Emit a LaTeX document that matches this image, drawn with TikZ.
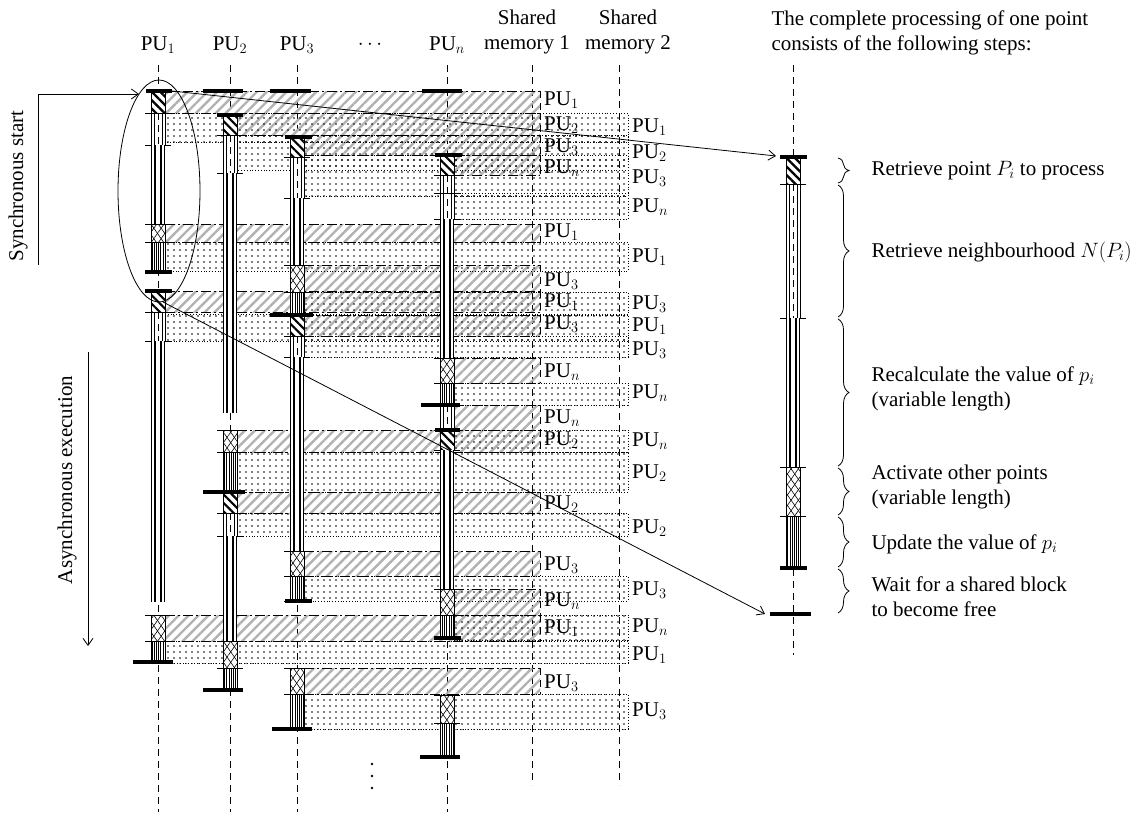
\documentclass[tikz,border=0pt]{standalone}
\usepackage{fontspec}
\setmainfont{Liberation Serif}
\usetikzlibrary{patterns.meta,decorations.pathreplacing,arrows.meta}

\begin{document}
\begin{tikzpicture}[x=1pt,y=-1pt,
  font=\fontsize{21}{25}\selectfont,
  lane/.style={line width=.8pt,dash pattern=on 7pt off 5pt},
  bar/.style={line width=3.6pt},
  tick/.style={line width=.8pt},
  side/.style={line width=.8pt},
  shmone/.style={pattern={Lines[angle=45,distance=7pt,line width=2.4pt]},pattern color=black!30},
  shmtwo/.style={pattern={Dots[distance=6pt,radius=.85pt]},pattern color=black},
  edgeone/.style={line width=.8pt,dash pattern=on 10pt off 3pt on 2pt off 3pt},
  edgetwo/.style={line width=.8pt,dotted},
  tag/.style={anchor=west,inner sep=1pt},
  brc/.style={decorate,decoration={brace,amplitude=11pt},line width=.8pt},
  link/.style={line width=.8pt,-{Straight Barb[length=7pt,width=10pt]}},
]
\useasboundingbox (0,0) rectangle (1137,814);

% Time lines of the processing units, the two shared memories and the legend.
\foreach \c in {158,230,297,447} \draw[lane] (\c,65) -- (\c,812);
\foreach \c in {532,619} \draw[lane] (\c,65) -- (\c,785);
\draw[lane] (793,65) -- (793,655);

% Accesses to shared memory 1 (hatched) with the unit named at the right.
\foreach \c/\a/\b/\k/\t in {158/91/113/1/100, 230/113/135/2/125, 297/135/155/3/147,
    447/155/175/n/168, 158/224/242/1/232, 297/265/292/3/281, 158/291/312/1/302,
    297/315/336/3/324, 447/358/383/n/372, 447/405/430/n/418, 230/430/452/2/440,
    230/492/513/2/504, 297/551/576/3/565, 447/589/615/n/601, 158/615/641/1/628,
    297/668/694/3/683} {
  \fill[shmone] (\c+7,\a) rectangle (540,\b);
  \draw[edgeone] (\c+7,\a) -- (540,\a) (\c+7,\b) -- (540,\b);
  \draw[lane] (540,\a) -- (540,\b);
  \node[tag] (ma\k\t) at (543,\t) {PU$_\k$};
}

% Accesses to shared memory 2 (dotted).
\foreach \c/\a/\b/\k/\t in {158/113/142/1/127, 230/135/170/2/153, 297/155/196/3/178,
    447/193/219/n/207, 158/242/271/1/257, 297/292/315/3/304, 158/314/341/1/326,
    297/336/357/3/350, 447/383/405/n/393, 447/430/452/n/441, 230/452/492/2/473,
    230/513/536/2/528, 297/576/601/3/590, 447/615/640/n/627, 158/641/663/1/655,
    297/694/729/3/711} {
  \fill[shmtwo] (\c+7,\a) rectangle (628,\b);
  \draw[edgetwo] (\c+7,\a) -- (628,\a) -- (628,\b) -- (\c+7,\b);
  \node[tag] (mb\k\t) at (631,\t) {PU$_\k$};
}

% Retrieve point.
\foreach \c/\a/\b in {158/91/113, 158/291/312, 230/115/135, 230/492/513, 297/137/157,
    297/315/336, 447/155/175, 447/430/450, 793/157/184} {
  \fill[white] (\c-7,\a) rectangle (\c+7,\b);
  \fill[pattern={Lines[angle=-45,distance=6pt,line width=2.2pt]}] (\c-7,\a) rectangle (\c+7,\b);
  \draw[side] (\c-7,\a) -- (\c-7,\b) (\c+7,\a) -- (\c+7,\b);
  \draw[tick] (\c-13,\b) -- (\c+13,\b);
}

% Retrieve neighbourhood.
\foreach \c/\a/\b in {158/113/145, 158/312/341, 230/135/173, 230/513/536, 297/157/198,
    297/336/357, 447/175/219, 447/405/430, 793/184/318} {
  \fill[white] (\c-7,\a) rectangle (\c+7,\b);
  \draw[side] (\c-7,\a) -- (\c-7,\b) (\c+7,\a) -- (\c+7,\b) (\c-4,\a) -- (\c-4,\b) (\c+4,\a) -- (\c+4,\b);
  \draw[lane,line width=.6pt] (\c,\a) -- (\c,\b);
  \draw[tick] (\c-13,\a) -- (\c+13,\a) (\c-13,\b) -- (\c+13,\b);
}
\draw[tick] (434,193) -- (460,193);

% Recalculate.
\foreach \c/\a/\b in {158/145/224, 158/341/602, 230/173/413, 230/536/641, 297/198/265,
    297/357/551, 447/219/358, 447/450/589, 793/318/467} {
  \fill[white] (\c-7,\a) rectangle (\c+7,\b);
  \draw[line width=.6pt] (\c-6.5,\a) -- (\c-6.5,\b) (\c+6.5,\a) -- (\c+6.5,\b);
  \draw[line width=2.4pt] (\c-3,\a) -- (\c-3,\b) (\c+3,\a) -- (\c+3,\b);
}

% Activate other points.
\foreach \c/\a/\b in {158/224/242, 158/615/641, 230/430/452, 230/641/668, 297/265/292,
    297/551/576, 297/668/694, 447/358/383, 447/589/615, 447/695/723, 793/467/516} {
  \fill[white] (\c-7,\a) rectangle (\c+7,\b);
  \fill[pattern={Lines[angle=55,distance=6pt,line width=.6pt]}] (\c-7,\a) rectangle (\c+7,\b);
  \fill[pattern={Lines[angle=-55,distance=6pt,line width=.6pt]}] (\c-7,\a) rectangle (\c+7,\b);
  \draw[side] (\c-7,\a) -- (\c-7,\b) (\c+7,\a) -- (\c+7,\b);
  \draw[tick] (\c-13,\a) -- (\c+13,\a) (\c-13,\b) -- (\c+13,\b);
}

% Update.
\foreach \c/\a/\b in {158/242/271, 158/641/662, 230/452/492, 230/668/690, 297/292/315,
    297/576/601, 297/694/729, 447/383/405, 447/615/638, 447/723/757, 793/516/568} {
  \fill[white] (\c-7,\a) rectangle (\c+7,\b);
  \fill[pattern={Lines[angle=90,distance=2.2pt,line width=.6pt]}] (\c-7,\a) rectangle (\c+7,\b);
  \draw[side] (\c-7,\a) -- (\c-7,\b) (\c+7,\a) -- (\c+7,\b);
  \draw[tick] (\c-13,\a) -- (\c+13,\a) (\c-13,\b) -- (\c+13,\b);
}

% Start and end of each point.
\foreach \c/\y/\l/\r in {158/91/12/14, 158/272/13/14, 158/291/13/14, 158/662/25/15,
    230/91/27/13, 230/115/13/13, 230/492/27/15, 230/690/27/13,
    297/91/27/14, 297/137/12/15, 297/315/27/16, 297/601/12/15, 297/729/25/15,
    447/91/25/15, 447/155/12/15, 447/405/26/13, 447/430/12/13, 447/638/13/14, 447/757/27/13,
    793/157/13/14, 793/568/13/14, 793/614/23/18}
  \draw[bar] (\c-\l,\y) -- (\c+\r,\y);

% More points follow below.
\foreach \y in {764,776,788} \fill (372,\y) circle (1.3);

% Headings.
\node (hpu1) at (158,45) {PU$_1$};
\node (hpu2) at (230,45) {PU$_2$};
\node (hpu3) at (297,45) {PU$_3$};
\node (hdots) at (370,45) {$\cdots$};
\node (hpun) at (447,45) {PU$_n$};
\node[align=center] (hsm1) at (527,32) {Shared\\memory 1};
\node[align=center] (hsm2) at (628,32) {Shared\\memory 2};
\node[anchor=north west,align=left] (ltitle) at (768,7) {The complete processing of one point\\consists of the following steps:};

% Phases.
\node[rotate=90] (synctext) at (18,186) {Synchronous start};
\node[rotate=90] (asynctext) at (67,480) {Asynchronous execution};
\coordinate (sync0) at (38,265);
\coordinate (sync1) at (139,94);
\draw[link] (sync0) |- (sync1);
\coordinate (async0) at (88,352);
\coordinate (async1) at (88,646);
\draw[link] (async0) -- (async1);

% The first point of PU1, enlarged at the right.
\draw[line width=.8pt] (159,191) ellipse [x radius=41, y radius=111];
\coordinate (zoomA0) at (172,91);
\coordinate (zoomA1) at (776,156);
\draw[link] (zoomA0) -- (zoomA1);
\coordinate (zoomB0) at (163,302);
\coordinate (zoomB1) at (765,614);
\draw[link] (zoomB0) -- (zoomB1);

% Legend.
\foreach \a/\b in {157/184, 184/318, 318/467, 467/516, 516/568, 568/614}
  \draw[brc] (838,\a+1) -- (838,\b-1);
\node[anchor=west] (step1) at (868,171) {Retrieve point $P_i$ to process};
\node[anchor=west] (step2) at (868,252) {Retrieve neighbourhood $N(P_i)$};
\node[anchor=west,align=left] (step3) at (868,389) {Recalculate the value of $p_i$\\(variable length)};
\node[anchor=west,align=left] (step4) at (868,487) {Activate other points\\(variable length)};
\node[anchor=west] (step5) at (868,544) {Update the value of $p_i$};
\node[anchor=west,align=left] (step6) at (868,597) {Wait for a shared block\\to become free};
\end{tikzpicture}
\end{document}
